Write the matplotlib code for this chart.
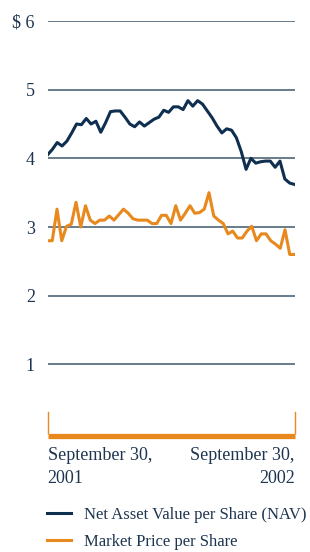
import numpy as np
import matplotlib
matplotlib.use('Agg')
import matplotlib.pyplot as plt
from matplotlib.lines import Line2D

# Значения (примерно по неделям)
nav = [4.05, 4.13, 4.23, 4.18, 4.25, 4.37, 4.50, 4.49, 4.58, 4.50,
       4.54, 4.38, 4.52, 4.68, 4.69, 4.69, 4.60, 4.50, 4.46, 4.53,
       4.47, 4.52, 4.57, 4.60, 4.70, 4.67, 4.75, 4.75, 4.71, 4.84,
       4.76, 4.84, 4.79, 4.69, 4.59, 4.47, 4.37, 4.43, 4.41, 4.30,
       4.10, 3.84, 4.00, 3.93, 3.95, 3.96, 3.96, 3.87, 3.96, 3.70,
       3.64, 3.62]
price = [2.80, 2.80, 3.26, 2.80, 3.01, 3.04, 3.36, 3.00, 3.31, 3.10,
         3.05, 3.10, 3.10, 3.16, 3.10, 3.18, 3.26, 3.20, 3.12, 3.10,
         3.10, 3.10, 3.05, 3.05, 3.17, 3.17, 3.05, 3.31, 3.10, 3.20,
         3.31, 3.20, 3.21, 3.26, 3.50, 3.16, 3.10, 3.05, 2.90, 2.94,
         2.84, 2.84, 2.94, 3.01, 2.80, 2.90, 2.90, 2.80, 2.75, 2.69,
         2.96, 2.60, 2.60]
y_ticks = [1, 2, 3, 4, 5, 6]
y_labels = ['1', '2', '3', '4', '5', '$ 6']
start_label = 'September 30,\n2001'
end_label = 'September 30,\n2002'
series_names = ['Net Asset Value per Share (NAV)', 'Market Price per Share']

navy = '#0f2f50'
orange = '#e8891e'
grid_col = '#5d7282'
text_col = '#1e3550'

plt.rcParams['font.family'] = ['Liberation Serif', 'DejaVu Serif']

fig = plt.figure(figsize=(3.10, 5.52), dpi=100)
ax = fig.add_axes([47.5 / 310, 119 / 552, 247 / 310, 412 / 552])

weeks = 52
x_nav = np.linspace(0, weeks, len(nav))
x_price = np.linspace(0, weeks, len(price))

for y in y_ticks:
    ax.axhline(y, color=grid_col, lw=1.3, zorder=1)

ax.plot(x_nav, nav, color=navy, lw=2.2, zorder=3, solid_joinstyle='round')
ax.plot(x_price, price, color=orange, lw=2.2, zorder=3, solid_joinstyle='round')

# оранжевая ось времени
ax.plot([0, weeks], [-0.04, -0.04], color=orange, lw=3.8, solid_capstyle='butt',
        zorder=2, clip_on=False)
ax.plot([0, 0], [0, 0.31], color=orange, lw=1.0, clip_on=False)
ax.plot([weeks, weeks], [0, 0.31], color=orange, lw=1.0, clip_on=False)

ax.set_xlim(0, weeks)
ax.set_ylim(0, 6)
ax.set_yticks(y_ticks)
ax.set_yticklabels(y_labels, fontsize=13, color=text_col)
ax.tick_params(axis='y', length=0, pad=9)
ax.set_xticks([])
for s in ax.spines.values():
    s.set_visible(False)

ax.text(0, -0.21, start_label, ha='left', va='top', fontsize=13,
        color=text_col, linespacing=1.4)
ax.text(weeks, -0.21, end_label, ha='right', va='top', fontsize=13,
        color=text_col, linespacing=1.4, multialignment='right')

handles = [Line2D([], [], color=navy, lw=2.2), Line2D([], [], color=orange, lw=2.2)]
fig.legend(handles, series_names, loc='upper left', bbox_to_anchor=(47 / 310, 1 - 507 / 552),
           frameon=False, fontsize=12, handlelength=1.45, handletextpad=0.8,
           labelspacing=0.65, labelcolor=text_col, borderaxespad=0, borderpad=0)

fig.savefig('out.png', dpi=100)
